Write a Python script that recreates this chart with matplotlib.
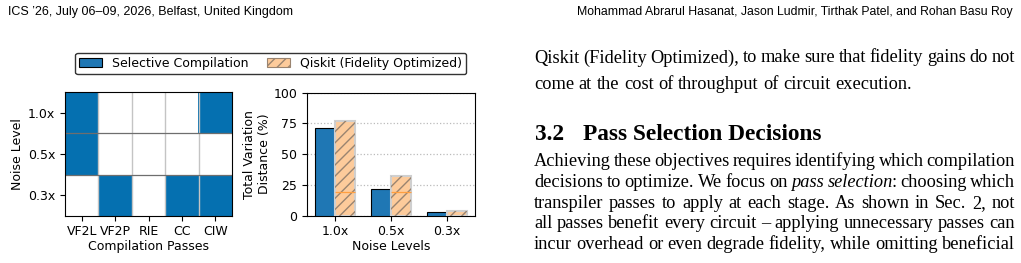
import numpy as np
import matplotlib
matplotlib.use('Agg')
import matplotlib.pyplot as plt
from matplotlib.colors import ListedColormap
from matplotlib.patches import Patch

# data
passes = ['VF2L', 'VF2P', 'RIE', 'CC', 'CIW']
noise_levels = ['1.0x', '0.5x', '0.3x']
selected = np.array([[1, 0, 0, 0, 1],
                     [1, 0, 0, 0, 0],
                     [0, 1, 0, 1, 1]])
selective_tvd = [71, 22, 2.7]
qiskit_tvd = [76.5, 32, 3.5]
qiskit_mark = [19, 19, np.nan]

header_left = "ICS \u201926, July 06\u201309, 2026, Belfast, United Kingdom"
header_right = "Mohammad Abrarul Hasanat, Jason Ludmir, Tirthak Patel, and Rohan Basu Roy"
para1 = ["Qiskit (Fidelity Optimized), to make sure that fidelity gains do not",
         "come at the cost of throughput of circuit execution."]
heading_num = "3.2"
heading = "Pass Selection Decisions"
para2 = ["Achieving these objectives requires identifying which compilation",
         "decisions to optimize. We focus on *pass* *selection*: choosing which",
         "transpiler passes to apply at each stage. As shown in Sec. 2, not",
         "all passes benefit every circuit \u2013 applying unnecessary passes can",
         "incur overhead or even degrade fidelity, while omitting beneficial"]

W, H = 1021, 263
plt.rcParams['font.size'] = 9
fig = plt.figure(figsize=(W / 100, H / 100), dpi=100)
serif = ['Liberation Serif', 'DejaVu Serif']
narrow = ['Liberation Sans Narrow', 'Liberation Sans', 'DejaVu Sans']


def box(l, t, r, b):
    return [l / W, 1 - b / H, (r - l) / W, (b - t) / H]


# heatmap of selected passes
ax1 = fig.add_axes(box(65, 92.3, 232, 215.7))
ax1.imshow(selected, cmap=ListedColormap(['white', '#0570b0']), aspect='auto',
           vmin=0, vmax=1, interpolation='nearest')
for i in range(1, len(passes)):
    ax1.axvline(i - 0.5, color='#c4c4c4', lw=1)
for j in range(1, len(noise_levels)):
    ax1.axhline(j - 0.5, color='#6e6e6e', lw=0.9)
ax1.set_xticks(range(len(passes)), passes)
ax1.set_yticks(range(len(noise_levels)), noise_levels)
ax1.set_xlabel('Compilation Passes', labelpad=1)
ax1.set_ylabel('Noise Level', labelpad=3)

# TVD bars
ax2 = fig.add_axes(box(307, 92.5, 474.6, 215.7))
x = np.arange(len(noise_levels))
w = 0.36
ax2.bar(x - w / 2, selective_tvd, w, color='#1f77b4', edgecolor='black', lw=0.8, zorder=3)
ax2.bar(x + w / 2, qiskit_tvd, w, color='#fdcb9b', edgecolor='#cfcfcf', lw=1.5, zorder=3)
ax2.bar(x + w / 2, qiskit_tvd, w, fill=False, hatch='///', edgecolor='#9a8470', lw=0, zorder=4)
ax2.hlines(qiskit_mark, x, x + w, color='#ff9f40', lw=0.9, zorder=5)
ax2.set_xlim(-0.5, 2.5)
ax2.set_ylim(0, 100)
ax2.set_yticks([0, 25, 50, 75, 100])
ax2.set_xticks(x, noise_levels)
ax2.yaxis.grid(True, ls=':', color='#bbbbbb', lw=0.9, zorder=0)
ax2.set_axisbelow(True)
ax2.set_xlabel('Noise Levels', labelpad=1)
ax2.set_ylabel('Total Variation\nDistance (%)', labelpad=2)

handles = [Patch(facecolor='#1f77b4', edgecolor='black', lw=0.8),
           Patch(facecolor='#fdcb9b', edgecolor='#9a8470', hatch='///', lw=0.8)]
fig.legend(handles, ['Selective Compilation', 'Qiskit (Fidelity Optimized)'],
           loc='center', bbox_to_anchor=(270.5 / W, 1 - 63.5 / H), ncol=2,
           fontsize=9, edgecolor='#333333', framealpha=1,
           handlelength=1.8, columnspacing=1.5, borderpad=0.35)

renderer = fig.canvas.get_renderer()


def put(s, xp, yp, **kw):
    return fig.text(xp / W, 1 - yp / H, s, va='baseline', **kw)


def width(t):
    return t.get_window_extent(renderer).width


def fit_size(s, target, **kw):
    t = put(s, 0, 0, fontsize=10, **kw)
    size = 10 * target / width(t)
    t.remove()
    return size


def fit_text(s, x0, x1, yp, family, ha='left'):
    t = put(s, x0 if ha == 'left' else x1, yp, family=family, fontsize=10, ha=ha)
    t.set_fontsize(10 * (x1 - x0) / width(t))
    return t


def text_line(line, x0, x1, yp, size, justify=True):
    words = line.split(' ')
    arts = []
    for wd in words:
        if wd.startswith('*'):
            body, rest = wd[1:].split('*')
            pieces = [put(body, 0, yp, family=serif, fontsize=size, style='italic')]
            if rest:
                pieces.append(put(rest, 0, yp, family=serif, fontsize=size))
        else:
            pieces = [put(wd, 0, yp, family=serif, fontsize=size)]
        arts.append(pieces)
    # italic extents carry a little overhang
    widths = [sum(width(p) for p in pcs) - 2 * (len(pcs) - 1) for pcs in arts]
    if justify and len(words) > 1:
        gap = (x1 - x0 - sum(widths)) / (len(words) - 1)
    else:
        gap = width(put('a a', 0, yp, family=serif, fontsize=size)) - \
            width(put('aa', 0, yp, family=serif, fontsize=size))
        fig.texts[-1].remove()
        fig.texts[-1].remove()
    xp = x0
    for pcs in arts:
        for n, p in enumerate(pcs):
            p.set_x(xp / W)
            xp += width(p) - (2 if n < len(pcs) - 1 else 0)
        xp += gap


fit_text(header_left, 8, 293, 15, narrow)
fit_text(header_right, 577, 1013, 15, narrow, ha='right')

x0, x1 = 534, 1015
size = fit_size(para1[1], 909 - 534, family=serif)
text_line(para1[0], x0, x1, 62.5, size)
text_line(para1[1], x0, x1, 89, size, justify=False)
hsize = fit_size(heading, 822 - 583, family=serif, weight='bold')
put(heading_num, 535, 140, family=serif, fontsize=hsize, weight='bold')
put(heading, 583, 140, family=serif, fontsize=hsize, weight='bold')
for k, line in enumerate(para2):
    text_line(line, x0, x1, 166.5 + 20.6 * k, size)

fig.savefig('out.png', dpi=100)
